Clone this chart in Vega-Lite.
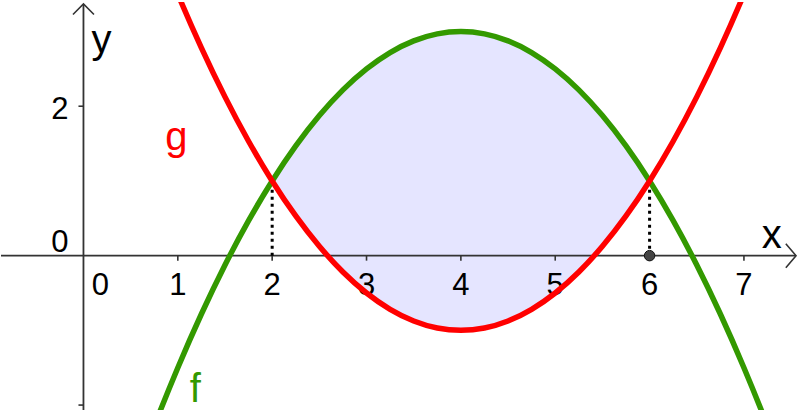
{
  "$schema": "https://vega.github.io/schema/vega-lite/v6.json",
  "width": 800,
  "height": 411,
  "autosize": {"type": "fit", "contains": "padding"},
  "padding": 0,
  "background": "white",
  "config": {"view": {"stroke": null}},
  "datasets": {
    "curves": [
      {"x": 0.5, "f": -3.125, "g": 5.125},
      {"x": 0.75, "f": -2.28125, "g": 4.28125},
      {"x": 1, "f": -1.5, "g": 3.5},
      {"x": 1.25, "f": -0.78125, "g": 2.78125},
      {"x": 1.5, "f": -0.125, "g": 2.125},
      {"x": 1.75, "f": 0.46875, "g": 1.53125},
      {"x": 2, "f": 1, "g": 1},
      {"x": 2.25, "f": 1.46875, "g": 0.53125},
      {"x": 2.5, "f": 1.875, "g": 0.125},
      {"x": 2.75, "f": 2.21875, "g": -0.21875},
      {"x": 3, "f": 2.5, "g": -0.5},
      {"x": 3.25, "f": 2.71875, "g": -0.71875},
      {"x": 3.5, "f": 2.875, "g": -0.875},
      {"x": 3.75, "f": 2.96875, "g": -0.96875},
      {"x": 4, "f": 3, "g": -1},
      {"x": 4.25, "f": 2.96875, "g": -0.96875},
      {"x": 4.5, "f": 2.875, "g": -0.875},
      {"x": 4.75, "f": 2.71875, "g": -0.71875},
      {"x": 5, "f": 2.5, "g": -0.5},
      {"x": 5.25, "f": 2.21875, "g": -0.21875},
      {"x": 5.5, "f": 1.875, "g": 0.125},
      {"x": 5.75, "f": 1.46875, "g": 0.53125},
      {"x": 6, "f": 1, "g": 1},
      {"x": 6.25, "f": 0.46875, "g": 1.53125},
      {"x": 6.5, "f": -0.125, "g": 2.125},
      {"x": 6.75, "f": -0.78125, "g": 2.78125},
      {"x": 7, "f": -1.5, "g": 3.5},
      {"x": 7.25, "f": -2.28125, "g": 4.28125},
      {"x": 7.5, "f": -3.125, "g": 5.125}
    ],
    "xticks": [
      {"v": 1, "z": 0, "t": "1"}, {"v": 2, "z": 0, "t": "2"}, {"v": 3, "z": 0, "t": "3"}, {"v": 4, "z": 0, "t": "4"},
      {"v": 5, "z": 0, "t": "5"}, {"v": 6, "z": 0, "t": "6"}, {"v": 7, "z": 0, "t": "7"}
    ],
    "yticks": [{"v": 2, "z": 0}, {"v": -2, "z": 0}],
    "drops": [{"x": 2, "y0": 0, "y": 1}, {"x": 6, "y0": 0, "y": 1}],
    "names": [
      {"x": 7.294, "y": 0.1, "t": "x", "c": "#000000"},
      {"x": 0.192, "y": 2.718, "t": "y", "c": "#000000"},
      {"x": 0.984, "y": 1.414, "t": "g", "c": "#ff0000"},
      {"x": 1.185, "y": -1.96, "t": "f", "c": "#339900"}
    ]
  },
  "layer": [
    {
      "data": {"name": "curves"},
      "transform": [{"filter": "datum.x >= 2 && datum.x <= 6"}],
      "mark": {"type": "area", "color": "#e5e5ff", "interpolate": "monotone", "opacity": 1},
      "encoding": {
        "x": {"field": "x", "type": "quantitative", "scale": {"domain": [-0.874, 7.573], "nice": false, "zero": false}, "axis": null},
        "y": {"field": "f", "type": "quantitative", "scale": {"domain": [-2.066, 3.395], "nice": false, "zero": false}, "axis": null},
        "y2": {"field": "g"}
      }
    },
    {
      "data": {"values": [{"a": -0.874, "b": 7.552, "z": 0}]},
      "mark": {"type": "rule", "color": "#333333", "strokeWidth": 1.8},
      "encoding": {
        "x": {"field": "a", "type": "quantitative"},
        "x2": {"field": "b"},
        "y": {"field": "z", "type": "quantitative"}
      }
    },
    {
      "data": {"values": [{"a": -2.066, "b": 3.369, "z": 0}]},
      "mark": {"type": "rule", "color": "#333333", "strokeWidth": 1.8},
      "encoding": {
        "x": {"field": "z", "type": "quantitative"},
        "y": {"field": "a", "type": "quantitative"},
        "y2": {"field": "b"}
      }
    },
    {
      "data": {"values": [{"x": 7.552, "y": 0}]},
      "mark": {"type": "point", "shape": "M -0.85 -1 L 0 0 L -0.85 1", "size": 576, "filled": false, "stroke": "#333333", "strokeWidth": 1.6, "opacity": 1},
      "encoding": {
        "x": {"field": "x", "type": "quantitative"},
        "y": {"field": "y", "type": "quantitative"}
      }
    },
    {
      "data": {"values": [{"x": 0, "y": 3.369}]},
      "mark": {"type": "point", "shape": "M -1 1 L 0 0 L 1 1", "size": 441, "filled": false, "stroke": "#333333", "strokeWidth": 1.6, "opacity": 1},
      "encoding": {
        "x": {"field": "x", "type": "quantitative"},
        "y": {"field": "y", "type": "quantitative"}
      }
    },
    {
      "data": {"name": "xticks"},
      "mark": {"type": "tick", "orient": "vertical", "color": "#333333", "thickness": 1.6, "size": 5, "yOffset": 2.5, "opacity": 1},
      "encoding": {
        "x": {"field": "v", "type": "quantitative"},
        "y": {"field": "z", "type": "quantitative"}
      }
    },
    {
      "data": {"name": "yticks"},
      "mark": {"type": "tick", "orient": "horizontal", "color": "#333333", "thickness": 1.6, "size": 5, "xOffset": -2.5, "opacity": 1},
      "encoding": {
        "x": {"field": "z", "type": "quantitative"},
        "y": {"field": "v", "type": "quantitative"}
      }
    },
    {
      "data": {"name": "xticks"},
      "mark": {"type": "text", "font": "Liberation Sans", "fontSize": 31, "color": "#000000", "align": "center", "baseline": "alphabetic", "dy": 39},
      "encoding": {
        "x": {"field": "v", "type": "quantitative"},
        "y": {"field": "z", "type": "quantitative"},
        "text": {"field": "t"}
      }
    },
    {
      "data": {"values": [{"v": 0, "z": 0, "t": "0"}]},
      "mark": {"type": "text", "font": "Liberation Sans", "fontSize": 31, "color": "#000000", "align": "center", "baseline": "alphabetic", "dy": 39, "dx": 17},
      "encoding": {
        "x": {"field": "v", "type": "quantitative"},
        "y": {"field": "z", "type": "quantitative"},
        "text": {"field": "t"}
      }
    },
    {
      "data": {"values": [{"v": 2, "z": 0, "t": "2"}]},
      "mark": {"type": "text", "font": "Liberation Sans", "fontSize": 31, "color": "#000000", "align": "right", "baseline": "alphabetic", "dy": 13, "dx": -15},
      "encoding": {
        "x": {"field": "z", "type": "quantitative"},
        "y": {"field": "v", "type": "quantitative"},
        "text": {"field": "t"}
      }
    },
    {
      "data": {"values": [{"v": 0, "z": 0, "t": "0"}]},
      "mark": {"type": "text", "font": "Liberation Sans", "fontSize": 31, "color": "#000000", "align": "right", "baseline": "alphabetic", "dy": -4, "dx": -15},
      "encoding": {
        "x": {"field": "z", "type": "quantitative"},
        "y": {"field": "v", "type": "quantitative"},
        "text": {"field": "t"}
      }
    },
    {
      "data": {"name": "drops"},
      "mark": {"type": "rule", "color": "#000000", "strokeWidth": 3, "strokeDash": [3, 4]},
      "encoding": {
        "x": {"field": "x", "type": "quantitative"},
        "y": {"field": "y0", "type": "quantitative"},
        "y2": {"field": "y"}
      }
    },
    {
      "data": {"name": "curves"},
      "mark": {"type": "line", "color": "#339900", "strokeWidth": 5.5, "interpolate": "monotone", "clip": true},
      "encoding": {
        "x": {"field": "x", "type": "quantitative"},
        "y": {"field": "f", "type": "quantitative"}
      }
    },
    {
      "data": {"name": "curves"},
      "mark": {"type": "line", "color": "#ff0000", "strokeWidth": 5.5, "interpolate": "monotone", "clip": true},
      "encoding": {
        "x": {"field": "x", "type": "quantitative"},
        "y": {"field": "g", "type": "quantitative"}
      }
    },
    {
      "data": {"values": [{"x": 6, "y": 0}]},
      "mark": {"type": "point", "filled": true, "fill": "#444444", "stroke": "#111111", "strokeWidth": 1, "size": 110, "opacity": 1},
      "encoding": {
        "x": {"field": "x", "type": "quantitative"},
        "y": {"field": "y", "type": "quantitative"}
      }
    },
    {
      "data": {"name": "names"},
      "mark": {"type": "text", "font": "Liberation Sans", "fontSize": 40, "align": "center", "baseline": "alphabetic"},
      "encoding": {
        "x": {"field": "x", "type": "quantitative"},
        "y": {"field": "y", "type": "quantitative"},
        "text": {"field": "t"},
        "color": {"field": "c", "type": "nominal", "scale": null}
      }
    }
  ]
}
